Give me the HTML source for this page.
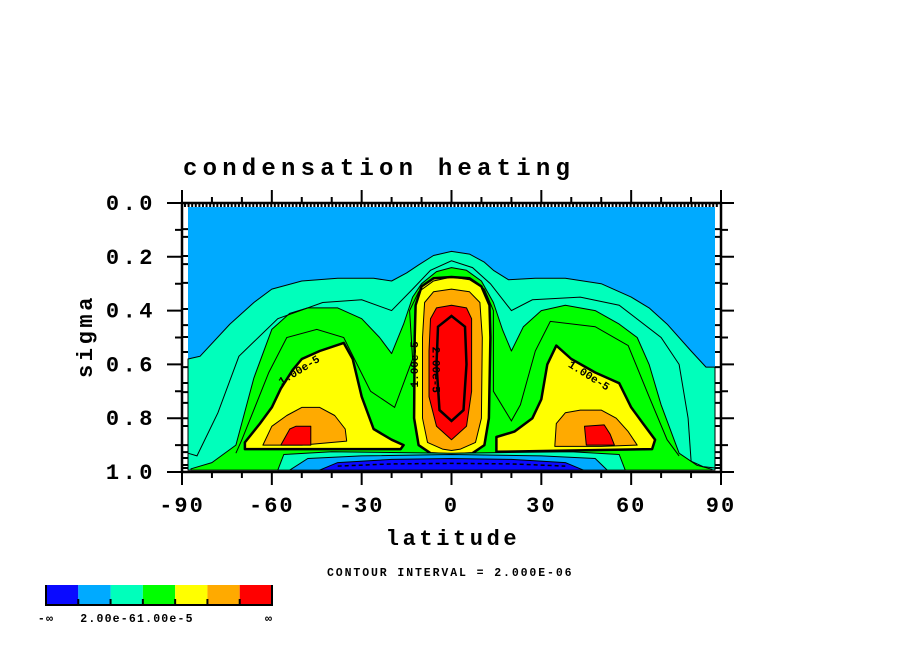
<!DOCTYPE html>
<html><head><meta charset="utf-8"><style>
html,body{margin:0;padding:0;background:#fff;}
svg{display:block;}
text{font-family:"Liberation Mono",monospace;}
</style></head><body>
<svg id="chart" width="904" height="654" viewBox="0 0 904 654" xmlns="http://www.w3.org/2000/svg">
<g id="fills"></g>
<g id="lines"></g>
<g id="labels"></g>
<g id="axes"></g>
<text x="183" y="175" font-size="24" font-weight="bold" letter-spacing="5.2">condensation heating</text>
<text x="453" y="545" font-size="22" font-weight="bold" text-anchor="middle" letter-spacing="3.6">latitude</text>
<text transform="translate(92,336) rotate(-90)" font-size="22" font-weight="bold" text-anchor="middle" letter-spacing="3.6">sigma</text>
<text x="327" y="576" font-size="11.5" font-weight="bold" letter-spacing="1.9">CONTOUR INTERVAL = 2.000E-06</text>
<g id="cbar"></g>
</svg>
<script>
const colorLevels = ["#0a0aff","#00aaff","#00ffbb","#00ff00","#ffff00","#ffaa00","#ff0000"];
const colorbarLabels = ["-\u221e","2.00e-6","1.00e-5","\u221e"];
const xTicks = [-90,-60,-30,0,30,60,90];
const yTicks = [0.0,0.2,0.4,0.6,0.8,1.0];
const sigmaLevels = [0.097,0.126,0.197,0.227,0.297,0.394,0.454,0.498,0.554,0.61,0.669,0.703,0.743,0.8,0.829,0.9,0.926,0.948,0.974,0.985];

const aqua = [[-88,.58],[-84,.57],[-74,.45],[-66,.37],[-60,.32],[-50,.29],[-38,.28],[-26,.28],[-20,.29],[-15,.26],[-11,.23],[-6,.195],[0,.18],[6,.19],[11,.22],[14,.25],[19,.285],[28,.28],[38,.28],[50,.3],[60,.35],[66,.39],[72,.45],[80,.55],[85,.61],[88,.61],[88,.993],[-88,.993]];
const aquaInner = [[-88,.93],[-85,.94],[-78,.78],[-71,.57],[-58,.43],[-43,.37],[-30,.36],[-20,.4],[-13,.32],[-7,.25],[0,.215],[7,.24],[13,.3],[20,.4],[27,.36],[43,.35],[56,.38],[70,.5],[76,.6],[79,.8],[80,.96],[84,.98],[88,.985]];
const green = [[-87,.988],[-80,.965],[-72,.9],[-66,.65],[-60,.47],[-54,.41],[-48,.39],[-38,.39],[-30,.43],[-24,.5],[-20,.56],[-16,.45],[-13,.35],[-10,.3],[-5,.255],[0,.24],[5,.25],[10,.29],[14,.37],[17,.47],[20,.55],[24,.46],[30,.4],[38,.38],[48,.4],[56,.45],[62,.5],[66,.6],[70,.75],[76,.93],[82,.975],[87,.99],[87,.993],[-87,.993]];
const greenInner = [[-72,.93],[-70,.88],[-61,.63],[-55,.5],[-45,.47],[-36,.5],[-27,.7],[-19,.76],[-13,.58],[-14,.4],[-11,.33],[-6,.29],[0,.275],[6,.285],[11,.32],[14,.4],[14,.7],[20,.81],[23,.75],[28,.55],[33,.44],[48,.46],[59,.53],[66,.72],[72,.88],[76,.94]];
const yellowL = [[-69,.89],[-64,.82],[-60,.76],[-57,.69],[-53,.62],[-50,.58],[-44,.55],[-36,.52],[-33,.58],[-30,.72],[-26,.84],[-20,.88],[-16,.9],[-17,.915],[-40,.915],[-69,.915]];
const yellowR = [[35,.53],[40,.58],[48,.63],[56,.67],[60,.76],[64,.82],[68,.88],[67,.915],[40,.92],[15,.925],[15,.87],[21,.85],[27,.8],[30,.73],[32,.6]];
const yellowC = [[-12.3,.5],[-12,.38],[-10,.31],[-6,.28],[0,.275],[6,.28],[10,.31],[12.7,.38],[13,.5],[12.5,.8],[11,.9],[7,.93],[0,.935],[-7,.93],[-11,.9],[-12.5,.8]];
const orangeC = [[-9.7,.5],[-9,.37],[-6,.33],[0,.32],[6,.33],[9.5,.37],[10.3,.5],[10,.8],[8,.89],[3,.915],[0,.92],[-3,.915],[-8,.89],[-9.7,.8]];
const redC = [[-7.5,.55],[-7,.43],[-5,.39],[0,.38],[5,.39],[6.7,.43],[6.7,.7],[5,.83],[0,.88],[-5,.83],[-7.5,.72]];
const redCInner = [[-5,.6],[-4.5,.46],[0,.42],[4.5,.46],[5,.6],[4,.77],[0,.81],[-4,.77]];
const orangeL = [[-63,.9],[-60,.83],[-55,.79],[-50,.76],[-44,.76],[-39,.79],[-35.5,.84],[-35,.885],[-50,.9]];
const redL = [[-57,.9],[-54,.84],[-52,.83],[-47,.83],[-47,.9]];
const orangeR = [[34.5,.905],[35,.82],[38,.78],[43,.77],[50,.77],[55,.8],[59,.85],[62,.9],[50,.905]];
const redR = [[44.4,.83],[51,.825],[53,.86],[54.4,.9],[45,.9]];
const aquaBottom = [[-58,.993],[-56,.935],[-40,.925],[0,.93],[40,.925],[56,.935],[58,.993]];
const lightBottom = [[-54,.993],[-48,.95],[-30,.94],[0,.935],[30,.94],[48,.95],[52,.993]];
const blueBottom = [[-44,.993],[-38,.965],[-20,.953],[0,.95],[20,.953],[38,.965],[44,.993]];
const dashBottom = [[-38,.978],[-20,.970],[0,.968],[20,.970],[38,.978]];

const NS='http://www.w3.org/2000/svg';
function X(lat){return 182+(lat+90)*539/180;}
function Y(s){return 203+s*269;}
function pts(a){return a.map(p=>X(p[0]).toFixed(1)+','+Y(p[1]).toFixed(1)).join(' ');}
function mk(tag,parent,attrs){const e=document.createElementNS(NS,tag);for(const k in attrs)e.setAttribute(k,attrs[k]);parent.appendChild(e);return e;}
const fills=document.getElementById('fills'), lines=document.getElementById('lines'), labs=document.getElementById('labels'), axes=document.getElementById('axes');

let bg=mk('rect',fills,{x:X(-88),y:Y(0.015),width:X(88)-X(-88),height:Y(0.993)-Y(0.015),fill:colorLevels[1]});



const polys=[
 ['aqua-region',aqua,2,1],['green-region',green,3,1],
 ['yellow-left-region',yellowL,4,2.5],['yellow-right-region',yellowR,4,2.5],['yellow-center-region',yellowC,4,2.5],
 ['orange-center-region',orangeC,5,1],['red-center-region',redC,6,1],
 ['orange-left-region',orangeL,5,1],['red-left-region',redL,6,1],
 ['orange-right-region',orangeR,5,1],['red-right-region',redR,6,1],
 ['aqua-bottom-band',aquaBottom,2,1],['lightblue-bottom-band',lightBottom,1,1],['blue-bottom-band',blueBottom,0,1]
];
polys.forEach(p=>{
 const e=mk('polygon',fills,{points:pts(p[1]),fill:colorLevels[p[2]],stroke:'#000','stroke-width':p[3],'stroke-linejoin':'round'});
 
 
});
[['aqua-inner-contour',aquaInner,1,null],['green-inner-contour',greenInner,1,null],['red-center-thick-contour',redCInner.concat([redCInner[0]]),2.5,null],['blue-dashed-contour',dashBottom,1.5,'4 3']].forEach(l=>{
 const a={points:pts(l[1]),fill:'none',stroke:'#000','stroke-width':l[2]};
 if(l[3])a['stroke-dasharray']=l[3];
 const e=mk('polyline',lines,a);
 
 
});
[['1.00e-5',-51,.62,-32,'label-left-lobe'],['1.00e-5',46,.64,32,'label-right-lobe'],['1.00e-5',-12.5,.6,-90,'label-center-outer'],['2.00e-5',-5,.62,90,'label-center-inner']].forEach(c=>{
 const t=mk('text',labs,{x:0,y:4,'font-size':11,'font-weight':'bold','text-anchor':'middle',transform:`translate(${X(c[1])},${Y(c[2])}) rotate(${c[3]})`});
 t.textContent=c[0];
 
 
});
const fr=mk('rect',axes,{x:182,y:203,width:539,height:269,fill:'none',stroke:'#000','stroke-width':2.5});


let d='';
for(let lat=-90;lat<=90;lat+=10){
 const x=X(lat), major=lat%30===0;
 d+=`M${x},472V${major?485:478}`;
 d+=`M${x},203V${major?190:197}`;
}
for(let lat=-89;lat<=89;lat+=1.2){d+=`M${X(lat)},204V207`;}
for(let s=0;s<=1.0001;s+=0.1){
 const y=Y(s), major=Math.round(s*10)%2===0;
 d+=`M182,${y}H${major?167:175}`;
 d+=`M721,${y}H${major?734:728}`;
}
sigmaLevels.forEach(s=>{d+=`M183,${Y(s)}H188M720,${Y(s)}H715`;});
const tk=mk('path',axes,{d:d,stroke:'#000','stroke-width':2,fill:'none'});


xTicks.forEach(v=>{
 const t=mk('text',axes,{x:X(v),y:512,'font-size':22,'font-weight':'bold','text-anchor':'middle','letter-spacing':'2'});
 t.textContent=String(v);
 
 
});
yTicks.forEach(v=>{
 const t=mk('text',axes,{x:156,y:Y(v)+7,'font-size':22,'font-weight':'bold','text-anchor':'end','letter-spacing':'3.5'});
 t.textContent=v.toFixed(1);
 
 
});
const cb=document.getElementById('cbar');
const bw=(272-46)/colorLevels.length;
colorLevels.forEach((c,i)=>{
 const r=mk('rect',cb,{x:46+i*bw,y:585,width:bw,height:20,fill:c});
 
 
});
let cd='M46,605H272M46,585V606M272,585V606';
for(let i=1;i<colorLevels.length;i++)cd+=`M${46+i*bw},599V606`;
const cbl=mk('path',cb,{d:cd,stroke:'#000','stroke-width':2,fill:'none'});


[[colorbarLabels[0],46],[colorbarLabels[1]+colorbarLabels[2],137],[colorbarLabels[3],269]].forEach(l=>{
 const t=mk('text',cb,{x:l[1],y:622,'font-size':11.5,'font-weight':'bold','text-anchor':'middle','letter-spacing':'1.2'});
 t.textContent=l[0];
 
 
});
</script>
</body></html>
